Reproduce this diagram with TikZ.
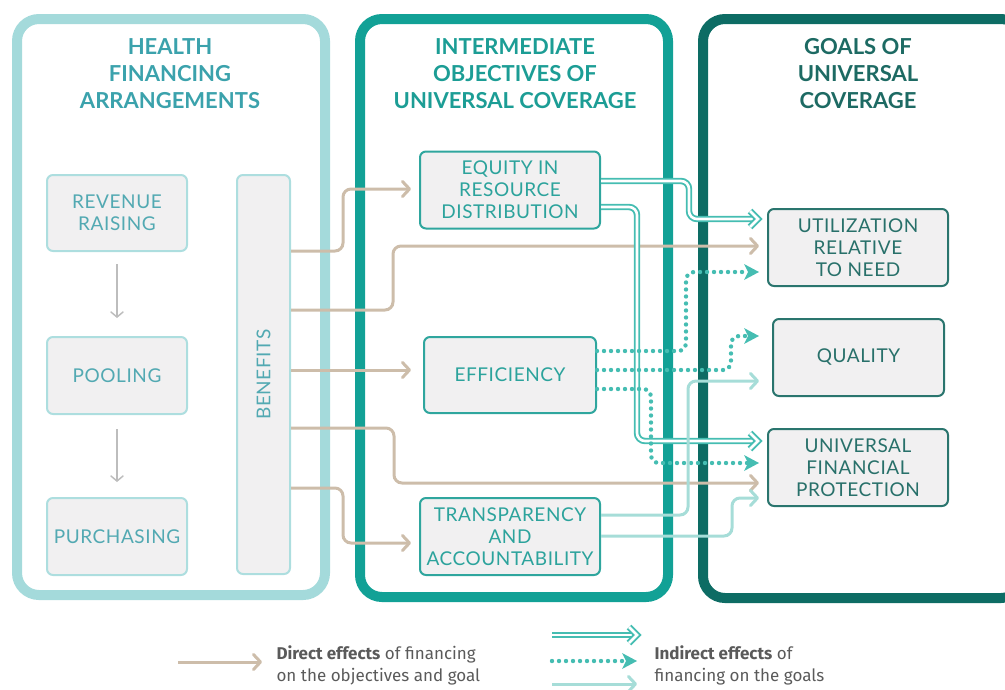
\documentclass[tikz,border=0pt]{standalone}
\usepackage{fontspec}
\setmainfont{Lato}
\newfontfamily\boxfont[LetterSpace=3]{Lato}
\newfontfamily\legfont{Fira Sans}
\usetikzlibrary{arrows.meta}
\definecolor{panelL}{HTML}{A4DADB}
\definecolor{panelM}{HTML}{12A196}
\definecolor{panelR}{HTML}{0D6C64}
\definecolor{titleL}{HTML}{3BA2AC}
\definecolor{titleM}{HTML}{1C9D95}
\definecolor{titleR}{HTML}{1D6A63}
\definecolor{textL}{HTML}{52A9B2}
\definecolor{borderL}{HTML}{ADDEDF}
\definecolor{borderM}{HTML}{2FA69E}
\definecolor{textM}{HTML}{2CA39C}
\definecolor{borderR}{HTML}{2A756E}
\definecolor{textR}{HTML}{28706A}
\definecolor{boxfill}{HTML}{F1F0F1}
\definecolor{brownc}{HTML}{CDBDAA}
\definecolor{tealc}{HTML}{45BDB2}
\definecolor{lightc}{HTML}{A6DDD8}
\definecolor{grayc}{HTML}{BDBDBD}
\definecolor{legtext}{HTML}{5A5A5A}
\tikzset{chev/.tip={Straight Barb[length=7pt,width=15pt,line cap=round,line join=round]}}
\begin{document}
\begin{tikzpicture}[x=1pt,y=-1pt,
  panelbox/.style={draw, line width=10pt, rounded corners=22pt, inner sep=0pt},
  titletext/.style={align=center, font={\fontsize{22}{27}\selectfont\bfseries}},
  basebox/.style={rounded corners=6pt, line width=2pt, fill=boxfill, align=center,
     inner sep=0pt, font={\boxfont\fontsize{19}{22}\selectfont}},
  lbox/.style={basebox, draw=borderL, text=textL},
  mbox/.style={basebox, draw=borderM, text=textM},
  rbox/.style={basebox, draw=borderR, text=textR},
  direct/.style={draw=brownc, line width=3pt, rounded corners=8pt, -{chev}, shorten >=8pt},
  light/.style={draw=lightc, line width=3pt, rounded corners=8pt, -{chev}, shorten >=8pt},
  dblline/.style={draw=tealc, double=white, double distance=2.6pt, line width=1.9pt,
     rounded corners=8pt, shorten >=3pt},
  dblhead/.style={draw=tealc, double=white, double distance=2.6pt, line width=1.9pt,
     line join=miter},
  dots/.style={draw=tealc, line width=4.4pt, line cap=round, dash pattern=on 0pt off 7pt,
     rounded corners=8pt, -{Stealth[length=15pt,width=16pt,inset=4pt,line width=0pt]}, shorten >=8pt},
  flow/.style={draw=grayc, line width=1.5pt, -{Straight Barb[length=5pt,width=12pt,line cap=round]}},
  legtxt/.style={anchor=west, align=left, text=legtext, font={\legfont\fontsize{17}{22}\selectfont}}
]
\useasboundingbox (0,0) rectangle (1005,689);

% panels
\node[panelbox, draw=panelL, minimum width=308pt, minimum height=576pt] (pL) at (171,307) {};
\node[panelbox, draw=panelM, minimum width=308pt, minimum height=578pt] (pM) at (514,308) {};
\node[panelbox, draw=panelR, minimum width=320pt, minimum height=579pt] (pR) at (863,308.5) {};

% titles
\node[titletext, text=titleL] (tL) at (170,74) {HEALTH\\FINANCING\\ARRANGEMENTS};
\node[titletext, text=titleM] (tM) at (515,74) {INTERMEDIATE\\OBJECTIVES OF\\UNIVERSAL COVERAGE};
\node[titletext, text=titleR] (tR) at (858,74) {GOALS OF\\UNIVERSAL\\COVERAGE};

% left boxes
\node[lbox, minimum width=140pt, minimum height=76pt] (revenue) at (117,213) {REVENUE\\RAISING};
\node[lbox, minimum width=140pt, minimum height=77pt] (pooling) at (117,375.5) {POOLING};
\node[lbox, minimum width=140pt, minimum height=77pt] (purch) at (117,536.5) {PURCHASING};
\node[lbox, rotate=90, minimum width=399pt, minimum height=53pt] (benefits) at (263.5,374.5) {BENEFITS};

% middle boxes
\node[mbox, minimum width=180pt, minimum height=77pt] (equity) at (510,190) {EQUITY IN\\RESOURCE\\DISTRIBUTION};
\node[mbox, minimum width=172pt, minimum height=76pt] (effic) at (510,375) {EFFICIENCY};
\node[mbox, minimum width=180pt, minimum height=77pt] (transp) at (510,536.5) {TRANSPARENCY\\AND\\ACCOUNTABILITY};

% right boxes
\node[rbox, minimum width=180pt, minimum height=77pt] (util) at (858,247.5) {UTILIZATION\\RELATIVE\\TO NEED};
\node[rbox, minimum width=171pt, minimum height=77pt] (quality) at (858.5,357.5) {QUALITY};
\node[rbox, minimum width=180pt, minimum height=77pt] (ufp) at (858,467.5) {UNIVERSAL\\FINANCIAL\\PROTECTION};

% flow arrows
\draw[flow, shorten <=12pt, shorten >=18pt] (revenue.south) -- (pooling.north);
\draw[flow, shorten <=14pt, shorten >=15pt] (pooling.south) -- (purch.north);

% direct effects
\draw[direct] (benefits.south |- 0,251) -- ++(52,0) |- (equity.west |- 0,189);
\draw[direct] (benefits.south |- 0,310) -- ++(102,0) |- (util.west |- 0,246);
\draw[direct, shorten >=12pt] (benefits.south |- 0,370) -- (effic.west |- 0,370);
\draw[direct] (benefits.south |- 0,428) -- ++(103,0) |- (ufp.west |- 0,483);
\draw[direct] (benefits.south |- 0,488) -- ++(52,0) |- (transp.west |- 0,543);

% indirect double
\path (util.west |- 0,219) ++(-9,0) coordinate (e1);
\path (ufp.west |- 0,441) ++(-9,0) coordinate (e2);
\draw[dblline] (equity.east |- 0,181) -- ++(88,0) |- (e1);
\draw[dblhead] (e1) ++(-8,-8) -- (e1) -- ++(-8,8);
\draw[dblline] (equity.east |- 0,207) -- ++(36,0) |- (e2);
\draw[dblhead] (e2) ++(-8,-8) -- (e2) -- ++(-8,8);

% indirect dotted
\draw[dots] (effic.east |- 0,351) -- ++(89,0) |- (util.west |- 0,272);
\draw[dots, shorten >=13pt] (effic.east |- 0,370) -- ++(134,0) |- (quality.west |- 0,336);
\draw[dots] (effic.east |- 0,389) -- ++(54,0) |- (ufp.west |- 0,463);

% indirect light
\draw[light, shorten >=13pt] (transp.east |- 0,515) -- ++(87,0) |- (quality.west |- 0,381);
\draw[light] (transp.east |- 0,536) -- ++(131,0) |- (ufp.west |- 0,498);

% legend
\coordinate (la1) at (178,662);
\coordinate (lb1) at (270,662);
\draw[direct] (la1) -- (lb1);
\node[legtxt] (leg1) at (273,665) {\textbf{Direct effects} of financing\\on the objectives and goal};
\coordinate (la2) at (552,635);
\coordinate (lb2) at (637,635);
\draw[dblline] (la2) -- (lb2);
\draw[dblhead] (lb2) ++(-8,-8) -- (lb2) -- ++(-8,8);
\coordinate (la3) at (552,661);
\coordinate (lb3) at (645,661);
\draw[dots] (la3) -- (lb3);
\coordinate (la4) at (552,684);
\coordinate (lb4) at (645,684);
\draw[light] (la4) -- (lb4);
\node[legtxt] (leg2) at (651,665) {\textbf{Indirect effects} of\\financing on the goals};
\end{tikzpicture}
\end{document}
